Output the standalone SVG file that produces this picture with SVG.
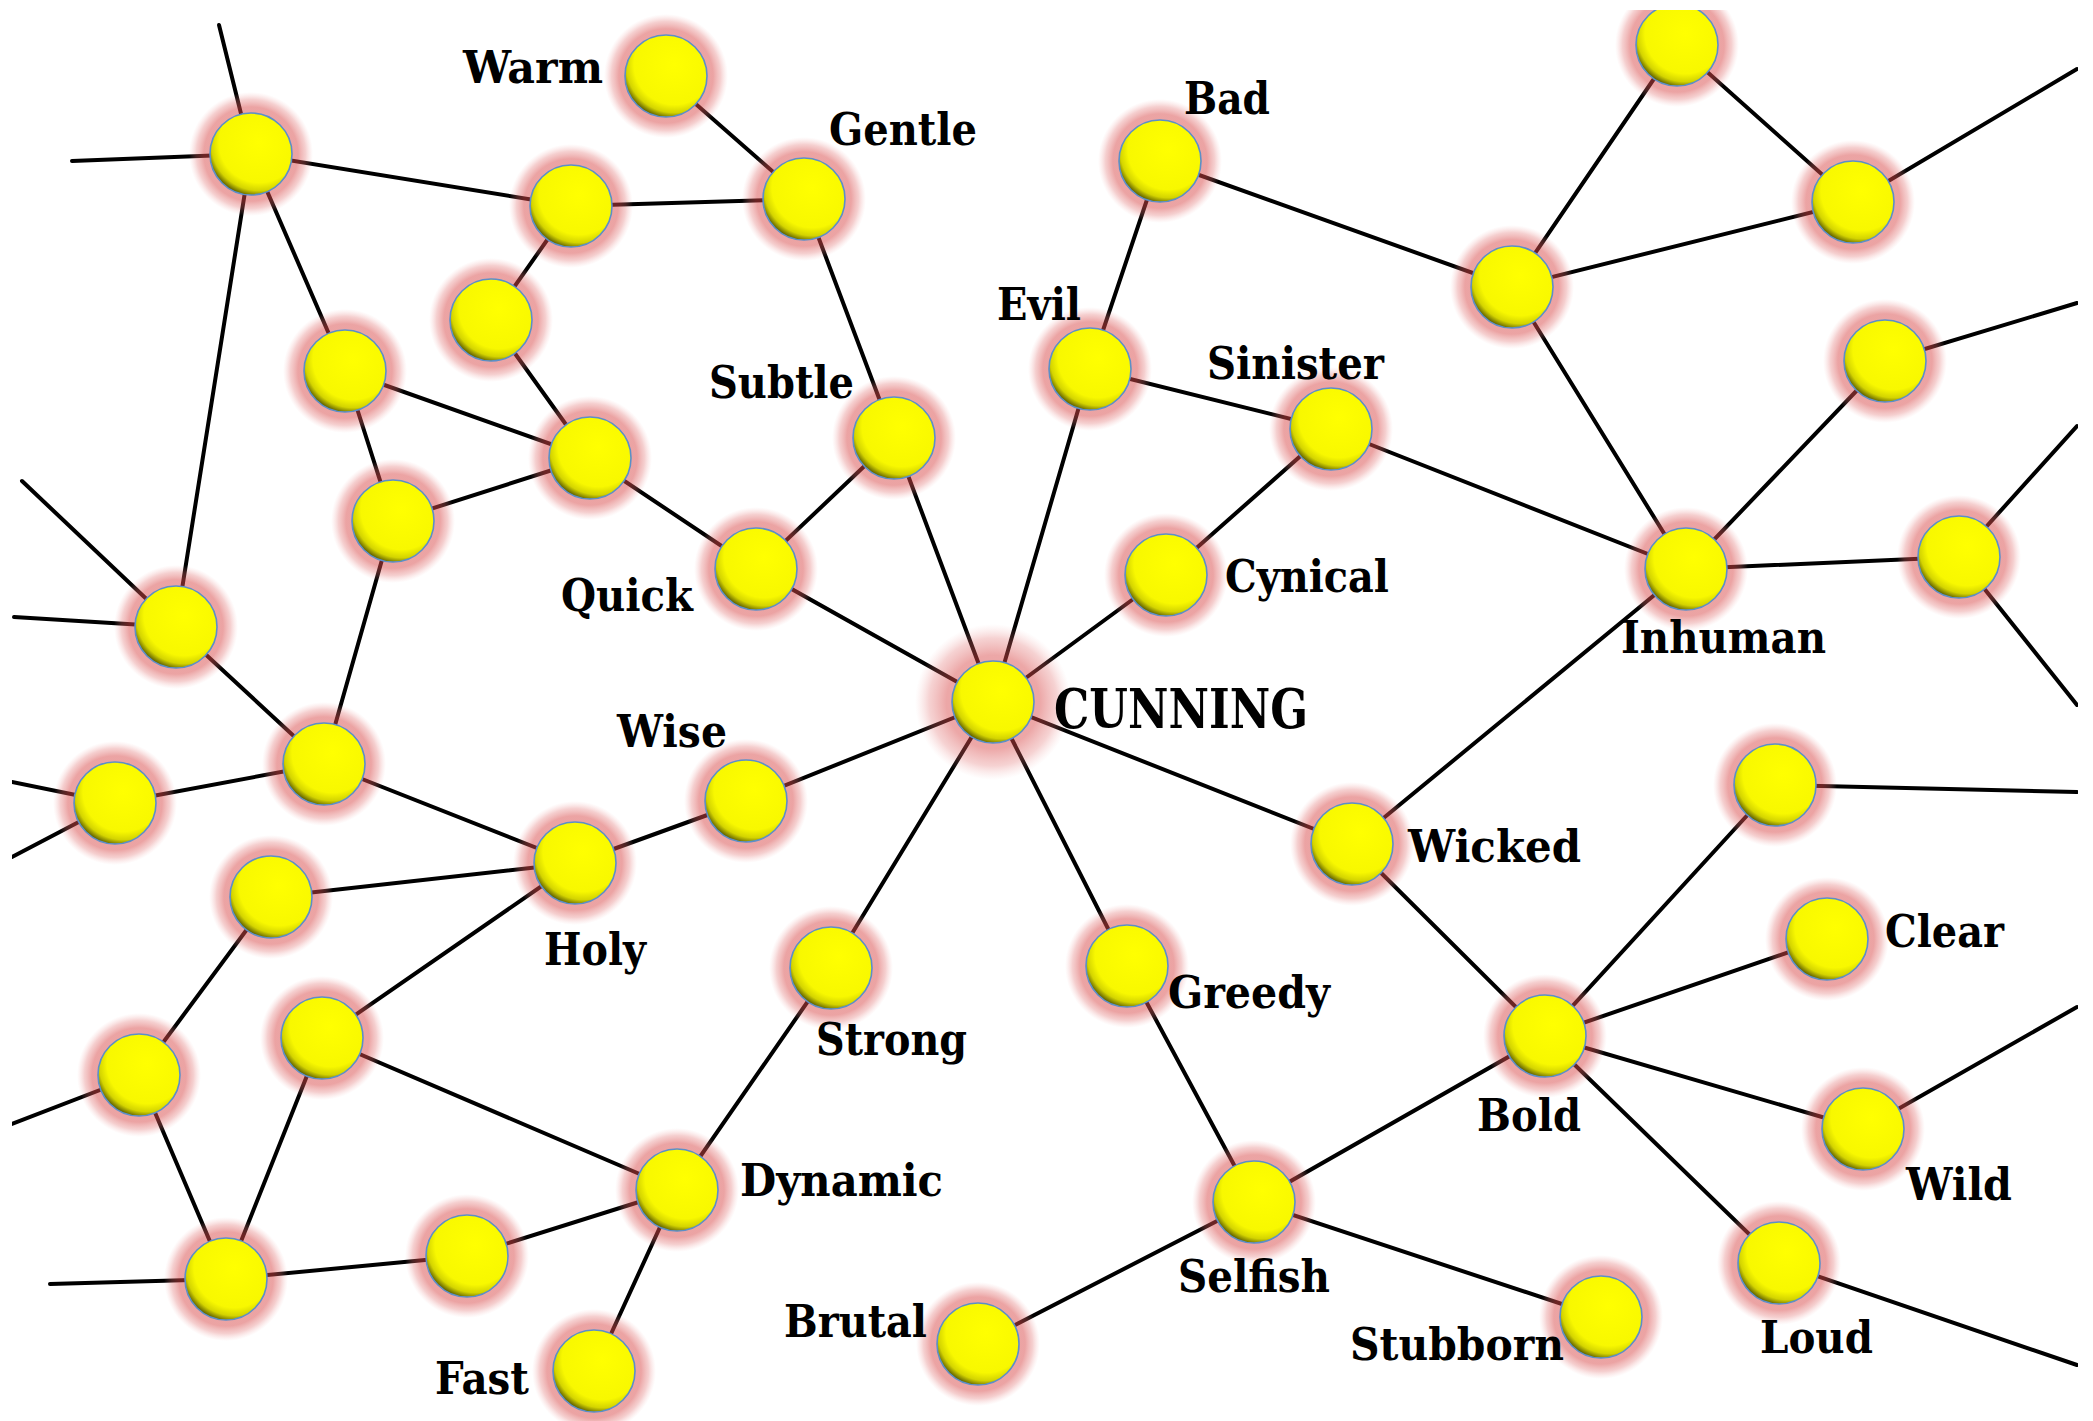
<svg xmlns="http://www.w3.org/2000/svg" width="2093" height="1421" viewBox="0 0 2093 1421">
<defs>
<radialGradient id="ball" cx="0.6" cy="0.36" r="0.7">
<stop offset="0" stop-color="#ffff00"/>
<stop offset="0.7" stop-color="#f8f800"/>
<stop offset="0.84" stop-color="#d4d400"/>
<stop offset="0.94" stop-color="#6a6a00"/>
<stop offset="1" stop-color="#262600"/>
</radialGradient>
<radialGradient id="halo">
<stop offset="0" stop-color="#d84848" stop-opacity="0.5"/>
<stop offset="0.76" stop-color="#d84848" stop-opacity="0.5"/>
<stop offset="0.88" stop-color="#e06a6a" stop-opacity="0.32"/>
<stop offset="1" stop-color="#f0a0a0" stop-opacity="0"/>
</radialGradient>
<radialGradient id="halo2">
<stop offset="0" stop-color="#d84848" stop-opacity="0.5"/>
<stop offset="0.6" stop-color="#d84848" stop-opacity="0.48"/>
<stop offset="0.82" stop-color="#e06a6a" stop-opacity="0.3"/>
<stop offset="1" stop-color="#f0a0a0" stop-opacity="0"/>
</radialGradient>
<clipPath id="frame"><rect x="12" y="10" width="2066" height="1411"/></clipPath>
</defs>
<style>
.e line{stroke:#000;stroke-width:4;stroke-linecap:round}
.h{fill:url(#halo)}
.h2{fill:url(#halo2)}
.b{fill:url(#ball);stroke:#5b8fc8;stroke-width:1.6}
text{font-family:"DejaVu Serif","Liberation Serif",serif;font-weight:bold;font-size:45px;fill:#000}
.big{font-size:55px}
</style>
<rect width="2093" height="1421" fill="#fff"/>
<g clip-path="url(#frame)">
<g id="edges" class="e">
<line x1="251" y1="154" x2="219" y2="25"/>
<line x1="251" y1="154" x2="72" y2="161"/>
<line x1="251" y1="154" x2="571" y2="206"/>
<line x1="251" y1="154" x2="345" y2="371"/>
<line x1="251" y1="154" x2="176" y2="627"/>
<line x1="571" y1="206" x2="804" y2="199"/>
<line x1="571" y1="206" x2="491" y2="320"/>
<line x1="665" y1="77" x2="804" y2="199"/>
<line x1="491" y1="320" x2="590" y2="458"/>
<line x1="345" y1="371" x2="590" y2="458"/>
<line x1="345" y1="371" x2="393" y2="521"/>
<line x1="393" y1="521" x2="590" y2="458"/>
<line x1="393" y1="521" x2="324" y2="764"/>
<line x1="590" y1="458" x2="756" y2="569"/>
<line x1="804" y1="199" x2="894" y2="438"/>
<line x1="894" y1="438" x2="756" y2="569"/>
<line x1="894" y1="438" x2="993" y2="702"/>
<line x1="756" y1="569" x2="993" y2="702"/>
<line x1="176" y1="627" x2="22" y2="481"/>
<line x1="176" y1="627" x2="14" y2="617"/>
<line x1="176" y1="627" x2="324" y2="764"/>
<line x1="324" y1="764" x2="115" y2="803"/>
<line x1="115" y1="803" x2="12" y2="782"/>
<line x1="115" y1="803" x2="12" y2="857"/>
<line x1="324" y1="764" x2="575" y2="863"/>
<line x1="271" y1="897" x2="575" y2="863"/>
<line x1="271" y1="897" x2="139" y2="1075"/>
<line x1="139" y1="1075" x2="12" y2="1124"/>
<line x1="139" y1="1075" x2="226" y2="1279"/>
<line x1="322" y1="1038" x2="575" y2="863"/>
<line x1="322" y1="1038" x2="226" y2="1279"/>
<line x1="322" y1="1038" x2="677" y2="1190"/>
<line x1="226" y1="1279" x2="50" y2="1284"/>
<line x1="226" y1="1279" x2="467" y2="1256"/>
<line x1="467" y1="1256" x2="677" y2="1190"/>
<line x1="677" y1="1190" x2="594" y2="1371"/>
<line x1="677" y1="1190" x2="831" y2="968"/>
<line x1="831" y1="968" x2="993" y2="702"/>
<line x1="575" y1="863" x2="746" y2="801"/>
<line x1="746" y1="801" x2="993" y2="702"/>
<line x1="993" y1="702" x2="1090" y2="369"/>
<line x1="1090" y1="369" x2="1160" y2="161"/>
<line x1="1090" y1="369" x2="1331" y2="429"/>
<line x1="1160" y1="161" x2="1512" y2="287"/>
<line x1="1512" y1="287" x2="1677" y2="45"/>
<line x1="1512" y1="287" x2="1853" y2="202"/>
<line x1="1512" y1="287" x2="1686" y2="569"/>
<line x1="1677" y1="45" x2="1853" y2="202"/>
<line x1="1853" y1="202" x2="2077" y2="69"/>
<line x1="1331" y1="429" x2="1686" y2="569"/>
<line x1="1331" y1="429" x2="1166" y2="575"/>
<line x1="1166" y1="575" x2="993" y2="702"/>
<line x1="1686" y1="569" x2="1885" y2="361"/>
<line x1="1885" y1="361" x2="2077" y2="303"/>
<line x1="1686" y1="569" x2="1959" y2="557"/>
<line x1="1959" y1="557" x2="2077" y2="426"/>
<line x1="1959" y1="557" x2="2077" y2="705"/>
<line x1="1686" y1="569" x2="1352" y2="844"/>
<line x1="993" y1="702" x2="1352" y2="844"/>
<line x1="1352" y1="844" x2="1545" y2="1036"/>
<line x1="993" y1="702" x2="1127" y2="966"/>
<line x1="1127" y1="966" x2="1254" y2="1202"/>
<line x1="1545" y1="1036" x2="1254" y2="1202"/>
<line x1="1545" y1="1036" x2="1775" y2="785"/>
<line x1="1775" y1="785" x2="2077" y2="792"/>
<line x1="1545" y1="1036" x2="1827" y2="939"/>
<line x1="1545" y1="1036" x2="1863" y2="1129"/>
<line x1="1863" y1="1129" x2="2077" y2="1007"/>
<line x1="1545" y1="1036" x2="1779" y2="1263"/>
<line x1="1779" y1="1263" x2="2077" y2="1365"/>
<line x1="1254" y1="1202" x2="978" y2="1344"/>
<line x1="1254" y1="1202" x2="1601" y2="1317"/>
</g>
<g id="n-a"><circle class="h" cx="251" cy="154" r="62"/><circle class="b" cx="251" cy="154" r="41"/></g>
<g id="n-b"><circle class="h" cx="571" cy="206" r="62"/><circle class="b" cx="571" cy="206" r="41"/></g>
<g id="n-gentle"><circle class="h" cx="804" cy="199" r="62"/><circle class="b" cx="804" cy="199" r="41"/><text x="829" y="145" textLength="148" lengthAdjust="spacingAndGlyphs">Gentle</text></g>
<g id="n-warm"><circle class="h" cx="666" cy="76" r="62"/><circle class="b" cx="666" cy="76" r="41"/><text x="463" y="83" textLength="140" lengthAdjust="spacingAndGlyphs">Warm</text></g>
<g id="n-c"><circle class="h" cx="491" cy="320" r="62"/><circle class="b" cx="491" cy="320" r="41"/></g>
<g id="n-d"><circle class="h" cx="345" cy="371" r="62"/><circle class="b" cx="345" cy="371" r="41"/></g>
<g id="n-e"><circle class="h" cx="590" cy="458" r="62"/><circle class="b" cx="590" cy="458" r="41"/></g>
<g id="n-f"><circle class="h" cx="393" cy="521" r="62"/><circle class="b" cx="393" cy="521" r="41"/></g>
<g id="n-subtle"><circle class="h" cx="894" cy="438" r="62"/><circle class="b" cx="894" cy="438" r="41"/><text x="709" y="398" textLength="145" lengthAdjust="spacingAndGlyphs">Subtle</text></g>
<g id="n-quick"><circle class="h" cx="756" cy="569" r="62"/><circle class="b" cx="756" cy="569" r="41"/><text x="561" y="611" textLength="132" lengthAdjust="spacingAndGlyphs">Quick</text></g>
<g id="n-g"><circle class="h" cx="176" cy="627" r="62"/><circle class="b" cx="176" cy="627" r="41"/></g>
<g id="n-h"><circle class="h" cx="324" cy="764" r="62"/><circle class="b" cx="324" cy="764" r="41"/></g>
<g id="n-i"><circle class="h" cx="115" cy="803" r="62"/><circle class="b" cx="115" cy="803" r="41"/></g>
<g id="n-holy"><circle class="h" cx="575" cy="863" r="62"/><circle class="b" cx="575" cy="863" r="41"/><text x="544" y="965" textLength="102" lengthAdjust="spacingAndGlyphs">Holy</text></g>
<g id="n-wise"><circle class="h" cx="746" cy="801" r="62"/><circle class="b" cx="746" cy="801" r="41"/><text x="617" y="747" textLength="110" lengthAdjust="spacingAndGlyphs">Wise</text></g>
<g id="n-j"><circle class="h" cx="271" cy="897" r="62"/><circle class="b" cx="271" cy="897" r="41"/></g>
<g id="n-k"><circle class="h" cx="322" cy="1038" r="62"/><circle class="b" cx="322" cy="1038" r="41"/></g>
<g id="n-l"><circle class="h" cx="139" cy="1075" r="62"/><circle class="b" cx="139" cy="1075" r="41"/></g>
<g id="n-m"><circle class="h" cx="226" cy="1279" r="62"/><circle class="b" cx="226" cy="1279" r="41"/></g>
<g id="n-n"><circle class="h" cx="467" cy="1256" r="62"/><circle class="b" cx="467" cy="1256" r="41"/></g>
<g id="n-dynamic"><circle class="h" cx="677" cy="1190" r="62"/><circle class="b" cx="677" cy="1190" r="41"/><text x="740" y="1196" textLength="203" lengthAdjust="spacingAndGlyphs">Dynamic</text></g>
<g id="n-fast"><circle class="h" cx="594" cy="1371" r="62"/><circle class="b" cx="594" cy="1371" r="41"/><text x="435" y="1394" textLength="94" lengthAdjust="spacingAndGlyphs">Fast</text></g>
<g id="n-strong"><circle class="h" cx="831" cy="968" r="62"/><circle class="b" cx="831" cy="968" r="41"/><text x="816" y="1055" textLength="151" lengthAdjust="spacingAndGlyphs">Strong</text></g>
<g id="n-brutal"><circle class="h" cx="978" cy="1344" r="62"/><circle class="b" cx="978" cy="1344" r="41"/><text x="784" y="1337" textLength="143" lengthAdjust="spacingAndGlyphs">Brutal</text></g>
<g id="n-cunning"><circle class="h2" cx="993" cy="702" r="78"/><circle class="b" cx="993" cy="702" r="41"/><text class="big" x="1054" y="728" textLength="254" lengthAdjust="spacingAndGlyphs">CUNNING</text></g>
<g id="n-bad"><circle class="h" cx="1160" cy="161" r="62"/><circle class="b" cx="1160" cy="161" r="41"/><text x="1184" y="114" textLength="86" lengthAdjust="spacingAndGlyphs">Bad</text></g>
<g id="n-evil"><circle class="h" cx="1090" cy="369" r="62"/><circle class="b" cx="1090" cy="369" r="41"/><text x="997" y="320" textLength="84" lengthAdjust="spacingAndGlyphs">Evil</text></g>
<g id="n-sinister"><circle class="h" cx="1331" cy="429" r="62"/><circle class="b" cx="1331" cy="429" r="41"/><text x="1207" y="379" textLength="177" lengthAdjust="spacingAndGlyphs">Sinister</text></g>
<g id="n-cynical"><circle class="h" cx="1166" cy="575" r="62"/><circle class="b" cx="1166" cy="575" r="41"/><text x="1225" y="592" textLength="164" lengthAdjust="spacingAndGlyphs">Cynical</text></g>
<g id="n-o"><circle class="h" cx="1512" cy="287" r="62"/><circle class="b" cx="1512" cy="287" r="41"/></g>
<g id="n-p"><circle class="h" cx="1677" cy="45" r="62"/><circle class="b" cx="1677" cy="45" r="41"/></g>
<g id="n-q"><circle class="h" cx="1853" cy="202" r="62"/><circle class="b" cx="1853" cy="202" r="41"/></g>
<g id="n-r"><circle class="h" cx="1885" cy="361" r="62"/><circle class="b" cx="1885" cy="361" r="41"/></g>
<g id="n-inhuman"><circle class="h" cx="1686" cy="569" r="62"/><circle class="b" cx="1686" cy="569" r="41"/><text x="1621" y="653" textLength="205" lengthAdjust="spacingAndGlyphs">Inhuman</text></g>
<g id="n-s"><circle class="h" cx="1959" cy="557" r="62"/><circle class="b" cx="1959" cy="557" r="41"/></g>
<g id="n-wicked"><circle class="h" cx="1352" cy="844" r="62"/><circle class="b" cx="1352" cy="844" r="41"/><text x="1408" y="862" textLength="173" lengthAdjust="spacingAndGlyphs">Wicked</text></g>
<g id="n-greedy"><circle class="h" cx="1127" cy="966" r="62"/><circle class="b" cx="1127" cy="966" r="41"/><text x="1168" y="1008" textLength="162" lengthAdjust="spacingAndGlyphs">Greedy</text></g>
<g id="n-t"><circle class="h" cx="1775" cy="785" r="62"/><circle class="b" cx="1775" cy="785" r="41"/></g>
<g id="n-clear"><circle class="h" cx="1827" cy="939" r="62"/><circle class="b" cx="1827" cy="939" r="41"/><text x="1885" y="947" textLength="119" lengthAdjust="spacingAndGlyphs">Clear</text></g>
<g id="n-bold"><circle class="h" cx="1545" cy="1036" r="62"/><circle class="b" cx="1545" cy="1036" r="41"/><text x="1477" y="1131" textLength="104" lengthAdjust="spacingAndGlyphs">Bold</text></g>
<g id="n-wild"><circle class="h" cx="1863" cy="1129" r="62"/><circle class="b" cx="1863" cy="1129" r="41"/><text x="1906" y="1200" textLength="106" lengthAdjust="spacingAndGlyphs">Wild</text></g>
<g id="n-loud"><circle class="h" cx="1779" cy="1263" r="62"/><circle class="b" cx="1779" cy="1263" r="41"/><text x="1760" y="1353" textLength="113" lengthAdjust="spacingAndGlyphs">Loud</text></g>
<g id="n-selfish"><circle class="h" cx="1254" cy="1202" r="62"/><circle class="b" cx="1254" cy="1202" r="41"/><text x="1178" y="1292" textLength="152" lengthAdjust="spacingAndGlyphs">Selfish</text></g>
<g id="n-stubborn"><circle class="h" cx="1601" cy="1317" r="62"/><circle class="b" cx="1601" cy="1317" r="41"/><text x="1350" y="1360" textLength="214" lengthAdjust="spacingAndGlyphs">Stubborn</text></g>
</g>
</svg>
